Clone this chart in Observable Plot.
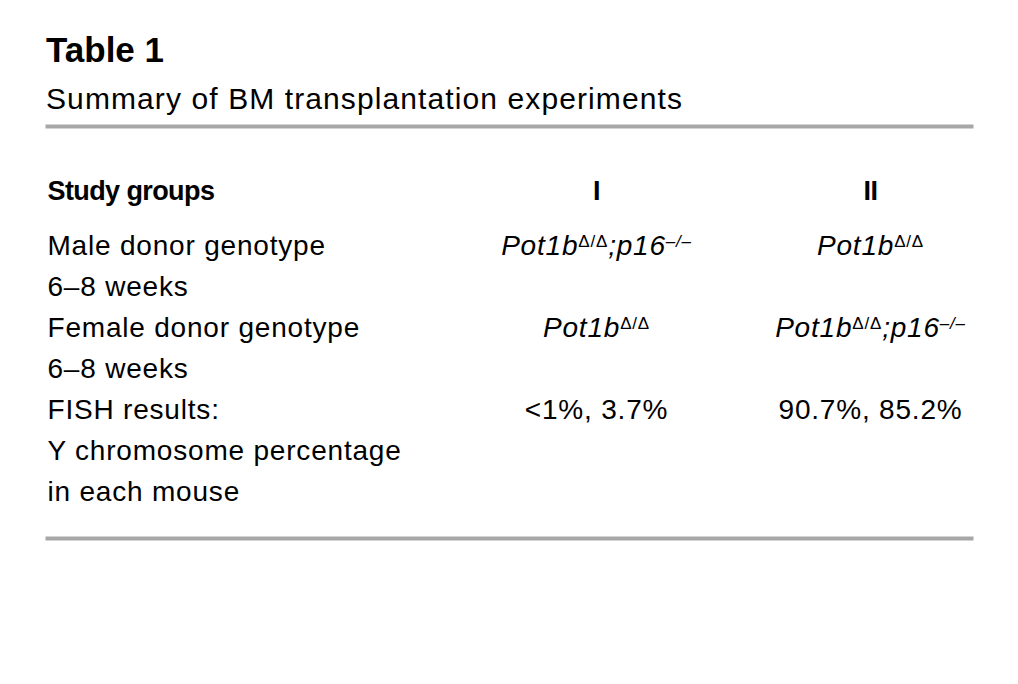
<!DOCTYPE html>
<html>
<head>
<meta charset="utf-8">
<script src="https://cdn.jsdelivr.net/npm/d3@7"></script>
<script src="https://cdn.jsdelivr.net/npm/@observablehq/plot@0.6"></script>
<style>
  html, body { margin: 0; padding: 0; background: #fff; }
  #wrap { position: relative; width: 1018px; height: 684px; overflow: hidden; font-family: "Liberation Sans", Arial, sans-serif; color: #000; }
  #title { position: absolute; left: 46px; top: 30px; font-size: 35px; line-height: 40px; font-weight: bold; white-space: nowrap; }
  #subtitle { position: absolute; left: 46px; top: 82px; font-size: 30px; line-height: 34px; letter-spacing: 1.1px; white-space: nowrap; }
  #plot { position: absolute; left: 0; top: 120px; }
  #plot svg text { letter-spacing: 0.8px; }
  #plot svg g[font-weight="bold"] text { letter-spacing: -0.6px; }
</style>
</head>
<body>
<div id="wrap">
  <div id="title">Table 1</div>
  <div id="subtitle">Summary of BM transplantation experiments</div>
  <div id="plot"></div>
</div>
<script>
// ---- data ----
const headerLabel = "Study groups";
const columns = ["I", "II"];
const rowLabels = [
  "Male donor genotype",
  "6–8 weeks",
  "Female donor genotype",
  "6–8 weeks",
  "FISH results:",
  "Y chromosome percentage",
  "in each mouse"
];
const maleGenotype = ["Pot1b^{Δ/Δ};p16^{–/–}", "Pot1b^{Δ/Δ}"];
const femaleGenotype = ["Pot1b^{Δ/Δ}", "Pot1b^{Δ/Δ};p16^{–/–}"];
const fishResults = ["<1%, 3.7%", "90.7%, 85.2%"];

// ---- tables built from the arrays ----
const maleRow = rowLabels.indexOf("Male donor genotype");
const femaleRow = rowLabels.indexOf("Female donor genotype");
const fishRow = rowLabels.indexOf("FISH results:");
const genotypeCells = columns.flatMap((c, j) => [
  {col: c, row: maleRow, value: maleGenotype[j]},
  {col: c, row: femaleRow, value: femaleGenotype[j]}
]);
const fishCells = columns.map((c, j) => ({col: c, row: fishRow, value: fishResults[j]}));
const labelRows = rowLabels.map((label, i) => ({row: i, label}));

const FS = 28;
const chart = Plot.plot({
  width: 1018,
  height: 564,
  marginTop: 6,
  marginBottom: 146,
  marginLeft: 47,
  marginRight: 47,
  style: {fontFamily: '"Liberation Sans", Arial, sans-serif', color: "#000", background: "#fff"},
  x: {type: "point", domain: columns, range: [596, 870], padding: 0, axis: null},
  y: {type: "point", domain: d3.range(rowLabels.length), range: [124, 373], padding: 0, axis: null},
  marks: [
    Plot.frame({anchor: "top", stroke: "#a7a7a7", strokeWidth: 4}),
    Plot.frame({anchor: "bottom", stroke: "#a7a7a7", strokeWidth: 4}),
    Plot.text([headerLabel], {text: d => d, frameAnchor: "top-left", textAnchor: "start", lineAnchor: "middle", dy: 65, fontWeight: "bold", fontSize: 27, fill: "#000"}),
    Plot.text(columns, {x: d => d, text: d => d, frameAnchor: "top", lineAnchor: "middle", dy: 65, fontWeight: "bold", fontSize: 27, fill: "#000"}),
    Plot.text(labelRows, {y: "row", text: "label", frameAnchor: "left", textAnchor: "start", lineAnchor: "middle", fontSize: FS, fill: "#000"}),
    Plot.text(genotypeCells, {x: "col", y: "row", text: "value", fontStyle: "italic", lineAnchor: "middle", fontSize: FS, fill: "#000"}),
    Plot.text(fishCells, {x: "col", y: "row", text: "value", lineAnchor: "middle", fontSize: FS, fill: "#000"})
  ]
});

// superscripts: turn "^{...}" into raised, smaller tspans
const SUP_FS = 17, SUP_DY = 8;
chart.querySelectorAll("text").forEach(t => {
  const s = t.textContent;
  if (!s.includes("^{")) return;
  t.textContent = "";
  const re = /\^\{([^}]*)\}/g;
  let last = 0, m, raised = false;
  const add = (str, sup) => {
    if (!str) return;
    const ts = document.createElementNS("http://www.w3.org/2000/svg", "tspan");
    ts.textContent = str;
    if (sup) {
      ts.setAttribute("font-size", SUP_FS);
      ts.setAttribute("dy", -SUP_DY);
      if (str.includes("Δ")) ts.setAttribute("font-style", "normal");
      raised = true;
    } else if (raised) {
      ts.setAttribute("dy", SUP_DY);
      raised = false;
    }
    t.appendChild(ts);
  };
  while ((m = re.exec(s)) !== null) {
    add(s.slice(last, m.index), false);
    add(m[1], true);
    last = re.lastIndex;
  }
  add(s.slice(last), false);
});

document.getElementById("plot").appendChild(chart);
</script>
</body>
</html>
